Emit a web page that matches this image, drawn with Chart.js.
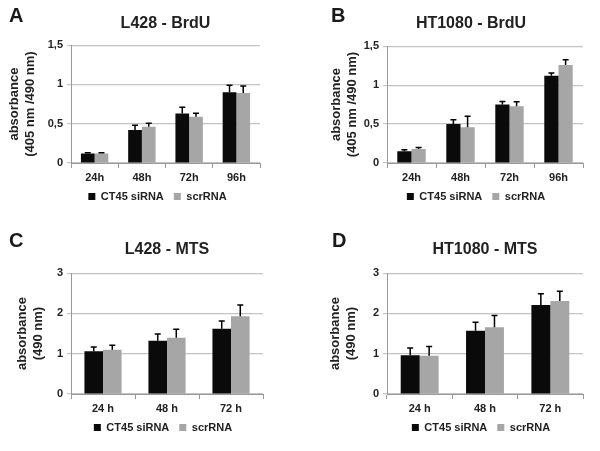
<!DOCTYPE html>
<html>
<head>
<meta charset="utf-8">
<script src="https://cdn.jsdelivr.net/npm/chart.js@4"></script>
<style>
  body { margin: 0; background: #fff; }
  #wrap { position: relative; width: 600px; height: 451px; font-family: "Liberation Sans", Arial, sans-serif; }
  .panel { position: absolute; width: 300px; height: 225px; }
  .letter { position: absolute; font-weight: bold; font-size: 20px; color: #1a1a1a; }
</style>
</head>
<body>
<div id="wrap">
  <div class="panel" style="left:0;top:0"><canvas id="chartA" width="300" height="225"></canvas></div>
  <div class="panel" style="left:300px;top:0"><canvas id="chartB" width="300" height="225"></canvas></div>
  <div class="panel" style="left:0;top:225px"><canvas id="chartC" width="300" height="225"></canvas></div>
  <div class="panel" style="left:300px;top:225px"><canvas id="chartD" width="300" height="225"></canvas></div>
  <div class="letter" style="left:9px;top:4px">A</div>
  <div class="letter" style="left:331px;top:4px">B</div>
  <div class="letter" style="left:9px;top:229px">C</div>
  <div class="letter" style="left:332px;top:229px">D</div>
</div>
<script>
// time points
const brduLabels = ['24h', '48h', '72h', '96h'];
const mtsLabels = ['24 h', '48 h', '72 h'];

// L428 - BrdU
const l428BrduSi = [0.12, 0.42, 0.63, 0.90];
const l428BrduSiErr = [0.01, 0.06, 0.08, 0.09];
const l428BrduScr = [0.12, 0.46, 0.59, 0.89];
const l428BrduScrErr = [0.01, 0.045, 0.045, 0.09];

// HT1080 - BrdU
const htBrduSi = [0.15, 0.50, 0.75, 1.12];
const htBrduSiErr = [0.02, 0.055, 0.04, 0.035];
const htBrduScr = [0.18, 0.46, 0.73, 1.26];
const htBrduScrErr = [0.02, 0.14, 0.055, 0.065];

// L428 - MTS
const l428MtsSi = [1.06, 1.32, 1.62];
const l428MtsSiErr = [0.11, 0.17, 0.19];
const l428MtsScr = [1.10, 1.40, 1.93];
const l428MtsScrErr = [0.11, 0.21, 0.28];

// HT1080 - MTS
const htMtsSi = [0.96, 1.57, 2.21];
const htMtsSiErr = [0.18, 0.21, 0.28];
const htMtsScr = [0.95, 1.66, 2.31];
const htMtsScrErr = [0.23, 0.29, 0.24];

const FONT = "'Liberation Sans', Arial, sans-serif";
const TEXT = '#222';

// upper error bars with caps
const errorBars = {
    id: 'errorBars',
    afterDatasetsDraw(chart) {
        const ctx = chart.ctx;
        const y = chart.scales.y;
        ctx.save();
        ctx.strokeStyle = '#000';
        ctx.lineWidth = 1.5;
        chart.data.datasets.forEach((ds, i) => {
            const meta = chart.getDatasetMeta(i);
            meta.data.forEach((bar, j) => {
                const top = y.getPixelForValue(ds.data[j] + ds.errors[j]);
                ctx.beginPath();
                ctx.moveTo(bar.x, bar.y);
                ctx.lineTo(bar.x, top);
                ctx.moveTo(bar.x - 3, top);
                ctx.lineTo(bar.x + 3, top);
                ctx.stroke();
            });
        });
        ctx.restore();
    }
};

// nudge title / legend sideways after layout
const shiftBlocks = {
    id: 'shiftBlocks',
    afterLayout(chart, args, opts) {
        if (chart.titleBlock && opts.title) {
            chart.titleBlock.left += opts.title;
            chart.titleBlock.right += opts.title;
        }
        if (chart.legend && opts.legend) {
            chart.legend.left += opts.legend;
            chart.legend.right += opts.legend;
        }
    }
};

function makeChart(id, title, labels, si, siErr, scr, scrErr, yTitle, yMax, step, pad, axisWidth, titlePad, shift) {
    new Chart(document.getElementById(id), {
        type: 'bar',
        data: {
            labels: labels,
            datasets: [{
                label: 'CT45 siRNA',
                data: si,
                errors: siErr,
                backgroundColor: '#0a0a0a'
            }, {
                label: 'scrRNA',
                data: scr,
                errors: scrErr,
                backgroundColor: '#a6a6a6'
            }]
        },
        options: {
            responsive: false,
            animation: false,
            layout: { padding: pad },
            categoryPercentage: 0.58,
            barPercentage: 1.0,
            plugins: {
                title: {
                    display: true,
                    text: title,
                    fullSize: false,
                    color: TEXT,
                    font: { family: FONT, size: 16, weight: 'bold' },
                    padding: titlePad
                },
                legend: {
                    position: 'bottom',
                    fullSize: false,
                    labels: {
                        color: TEXT,
                        boxWidth: 7,
                        boxHeight: 7,
                        padding: 10,
                        font: { family: FONT, size: 11, weight: 'bold' }
                    }
                },
                tooltip: { enabled: false },
                shiftBlocks: shift
            },
            scales: {
                x: {
                    afterFit(scale) { scale.height = 18; },
                    grid: { drawOnChartArea: false, tickLength: 5, color: '#999' },
                    border: { color: '#999' },
                    ticks: { color: TEXT, padding: 3, font: { family: FONT, size: 11, weight: 'bold' } }
                },
                y: {
                    min: 0,
                    max: yMax,
                    afterFit(scale) { scale.width = axisWidth; },
                    title: {
                        display: true,
                        text: yTitle,
                        color: TEXT,
                        padding: 7,
                        font: { family: FONT, size: 13, weight: 'bold' }
                    },
                    grid: { color: '#c4c4c4', tickLength: 4, lineWidth: 1.2 },
                    border: { color: '#999' },
                    ticks: {
                        stepSize: step,
                        color: TEXT,
                        padding: 4,
                        font: { family: FONT, size: 11, weight: 'bold' },
                        callback(v) { return String(v).replace('.', ','); }
                    }
                }
            }
        },
        plugins: [errorBars, shiftBlocks]
    });
}

makeChart('chartA', 'L428 - BrdU', brduLabels, l428BrduSi, l428BrduSiErr, l428BrduScr, l428BrduScrErr,
    ['absorbance', '(405 nm /490 nm)'], 1.5, 0.5, { left: 0, right: 40, bottom: 13 }, 71,
    { top: 14, bottom: 12 }, { title: 0, legend: -8 });
makeChart('chartB', 'HT1080 - BrdU', brduLabels, htBrduSi, htBrduSiErr, htBrduScr, htBrduScrErr,
    ['absorbance', '(405 nm /490 nm)'], 1.5, 0.5, { left: 22, right: 17, bottom: 13 }, 65,
    { top: 14, bottom: 13 }, { title: -14, legend: -9 });
makeChart('chartC', 'L428 - MTS', mtsLabels, l428MtsSi, l428MtsSiErr, l428MtsScr, l428MtsScrErr,
    ['absorbance', '(490 nm)'], 3, 1, { left: 8, right: 37, bottom: 7 }, 63,
    { top: 15, bottom: 14 }, { title: 0, legend: -4 });
makeChart('chartD', 'HT1080 - MTS', mtsLabels, htMtsSi, htMtsSiErr, htMtsScr, htMtsScrErr,
    ['absorbance', '(490 nm)'], 3, 1, { left: 21, right: 17, bottom: 7 }, 66,
    { top: 15, bottom: 14 }, { title: 0, legend: -4 });
</script>
</body>
</html>
